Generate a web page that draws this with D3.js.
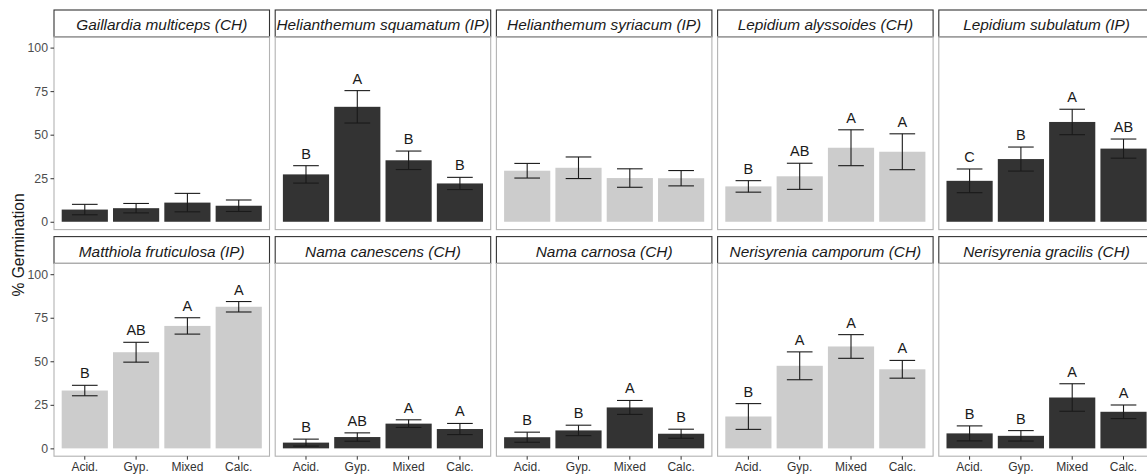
<!DOCTYPE html>
<html>
<head>
<meta charset="utf-8">
<script src="https://cdn.jsdelivr.net/npm/d3@7"></script>
<style>
  html, body { margin: 0; padding: 0; background: #fff; }
  svg { display: block; font-family: "Liberation Sans", Arial, sans-serif; }
</style>
</head>
<body>
<svg id="chart" width="1147" height="475"></svg>
<script>
// Germination (%) of ten species across four soil substrates, mean ± SE.
const species = [
  "Gaillardia multiceps (CH)", "Helianthemum squamatum (IP)", "Helianthemum syriacum (IP)",
  "Lepidium alyssoides (CH)", "Lepidium subulatum (IP)",
  "Matthiola fruticulosa (IP)", "Nama canescens (CH)", "Nama carnosa (CH)",
  "Nerisyrenia camporum (CH)", "Nerisyrenia gracilis (CH)"
];
const substrates = ["Acid.", "Gyp.", "Mixed", "Calc."];
const speciesGroup = ["g1", "g1", "g2", "g2", "g1", "g2", "g1", "g1", "g2", "g1"];
const germMean = [
  [7.0, 7.8, 11.0, 9.2],
  [27.2, 66.0, 35.3, 22.0],
  [29.3, 31.0, 25.1, 25.0],
  [20.3, 26.1, 42.5, 40.2],
  [23.5, 36.0, 57.3, 42.0],
  [33.2, 55.2, 70.3, 81.3],
  [3.3, 6.5, 14.2, 11.1],
  [6.4, 10.3, 23.5, 8.4],
  [18.3, 47.4, 58.5, 45.4],
  [8.6, 7.2, 29.2, 21.0]
];
const germSE = [
  [3.0, 2.7, 5.3, 3.3],
  [5.0, 9.3, 5.3, 3.5],
  [4.2, 6.2, 5.3, 4.4],
  [3.3, 7.5, 10.3, 10.3],
  [6.8, 6.9, 7.3, 5.5],
  [3.0, 5.7, 4.7, 3.0],
  [2.0, 2.4, 2.2, 3.2],
  [2.9, 3.0, 4.0, 2.6],
  [7.4, 8.0, 6.8, 5.1],
  [4.3, 3.0, 7.9, 3.9]
];
const groupLetters = [
  ["", "", "", ""],
  ["B", "A", "B", "B"],
  ["", "", "", ""],
  ["B", "AB", "A", "A"],
  ["C", "B", "A", "AB"],
  ["B", "AB", "A", "A"],
  ["B", "AB", "A", "A"],
  ["B", "B", "A", "B"],
  ["B", "A", "A", "A"],
  ["B", "B", "A", "A"]
];
const yTicks = [0, 25, 50, 75, 100];

// ---- layout ----
const nCol = 5;
const panelLeft = 54, panelStep = 221.2, panelW = 215.5;
const rowTop = [10, 236.6];
const stripH = 26.8, plotH = 192.8;

const svg = d3.select("#chart");

const fill = d3.scaleOrdinal().domain(["g1", "g2"]).range(["#333333", "#cccccc"]);
const x = d3.scaleBand().domain(substrates).range([0, panelW])
  .paddingInner(0.1).paddingOuter(0.15);
const y = d3.scaleLinear().domain([-4.5, 106.2]).range([plotH, 0]);

species.forEach((name, i) => {
  const col = i % nCol, row = Math.floor(i / nCol);
  const px = panelLeft + col * panelStep;
  const py = rowTop[row];

  const g = svg.append("g").attr("transform", `translate(${px},${py})`);

  // strip
  g.append("rect")
    .attr("x", 0).attr("y", 0).attr("width", panelW).attr("height", stripH)
    .attr("fill", "#fff").attr("stroke", "#333").attr("stroke-width", 1.1);
  g.append("text")
    .attr("x", panelW / 2).attr("y", 20.4)
    .attr("text-anchor", "middle")
    .attr("font-size", 15.4).attr("font-style", "italic")
    .attr("fill", "#1a1a1a")
    .text(name);

  const p = g.append("g").attr("transform", `translate(0,${stripH})`);

  const rows = substrates.map((s, j) => ({
    s, m: germMean[i][j], se: germSE[i][j], lab: groupLetters[i][j]
  }));

  // bars
  p.selectAll("rect.bar").data(rows).join("rect")
    .attr("class", "bar")
    .attr("x", d => x(d.s))
    .attr("width", x.bandwidth())
    .attr("y", d => y(d.m))
    .attr("height", d => y(0) - y(d.m))
    .attr("fill", fill(speciesGroup[i]));

  // error bars
  const capHalf = x.step() * 0.25;
  const eb = p.selectAll("g.eb").data(rows).join("g").attr("class", "eb")
    .attr("stroke", "#1a1a1a").attr("stroke-width", 1.1);
  eb.append("line")
    .attr("x1", d => x(d.s) + x.bandwidth() / 2).attr("x2", d => x(d.s) + x.bandwidth() / 2)
    .attr("y1", d => y(d.m - d.se)).attr("y2", d => y(d.m + d.se));
  eb.append("line")
    .attr("x1", d => x(d.s) + x.bandwidth() / 2 - capHalf).attr("x2", d => x(d.s) + x.bandwidth() / 2 + capHalf)
    .attr("y1", d => y(d.m + d.se)).attr("y2", d => y(d.m + d.se));
  eb.append("line")
    .attr("x1", d => x(d.s) + x.bandwidth() / 2 - capHalf).attr("x2", d => x(d.s) + x.bandwidth() / 2 + capHalf)
    .attr("y1", d => y(d.m - d.se)).attr("y2", d => y(d.m - d.se));

  // significance letters
  p.selectAll("text.lab").data(rows.filter(d => d.lab)).join("text")
    .attr("class", "lab")
    .attr("x", d => x(d.s) + x.bandwidth() / 2)
    .attr("y", d => y(d.m + d.se) - 7)
    .attr("text-anchor", "middle")
    .attr("font-size", 14.5)
    .attr("fill", "#1a1a1a")
    .text(d => d.lab);

  // panel border
  p.append("rect")
    .attr("x", 0).attr("y", 0).attr("width", panelW).attr("height", plotH)
    .attr("fill", "none").attr("stroke", "#b3b3b3").attr("stroke-width", 1.1);

  // y axis on first column
  if (col === 0) {
    const ya = p.append("g")
      .call(d3.axisLeft(y).tickValues(yTicks).tickSize(3.5).tickPadding(2.5));
    ya.select(".domain").remove();
    ya.selectAll("line").attr("stroke", "#333");
    ya.selectAll("text").attr("font-size", 12.3).attr("fill", "#4d4d4d")
      .attr("font-family", "Liberation Sans, Arial, sans-serif");
  }
  // x axis on bottom row
  if (row === 1) {
    const xa = p.append("g").attr("transform", `translate(0,${plotH})`)
      .call(d3.axisBottom(x).tickSize(3.5).tickPadding(3.2));
    xa.select(".domain").remove();
    xa.selectAll("line").attr("stroke", "#333");
    xa.selectAll("text").attr("font-size", 12).attr("fill", "#333")
      .attr("font-family", "Liberation Sans, Arial, sans-serif");
  }
});

// y-axis title
svg.append("text")
  .attr("transform", "translate(23.5,245) rotate(-90)")
  .attr("text-anchor", "middle")
  .attr("font-size", 15.6)
  .attr("fill", "#1a1a1a")
  .text("% Germination");
</script>
</body>
</html>
